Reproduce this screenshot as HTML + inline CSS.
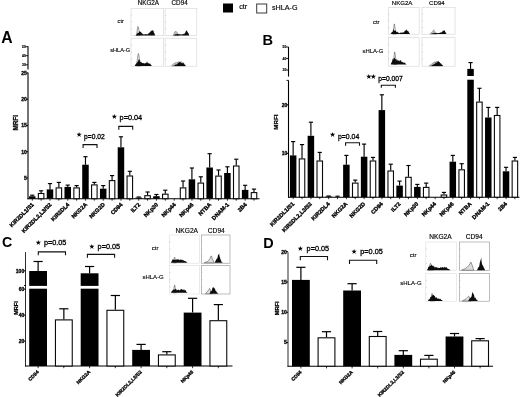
<!DOCTYPE html>
<html lang="en"><head><meta charset="utf-8"><title>Figure</title>
<style>
html,body{margin:0;padding:0;background:#fff;}
body{width:520px;height:397px;overflow:hidden;font-family:"Liberation Sans",sans-serif;}
svg{display:block;filter:blur(0.4px);}
</style></head><body>
<svg width="520" height="397" viewBox="0 0 520 397">
<rect width="520" height="397" fill="#fff"/>
<rect x="223.00" y="3.50" width="10.00" height="9.00" fill="#000"/>
<text x="239.20" y="8.70" font-size="7.3" font-family="Liberation Sans, sans-serif" fill="#000" stroke="#000" stroke-width="0.15">ctr</text>
<rect x="256.70" y="4.00" width="10.00" height="9.00" fill="#fff" stroke="#3a3a3a" stroke-width="1"/>
<text x="272.00" y="10.00" font-size="7.2" font-family="Liberation Sans, sans-serif" fill="#000" stroke="#000" stroke-width="0.15">sHLA-G</text>
<text x="1.30" y="42.80" font-size="15.7" font-family="Liberation Sans, sans-serif" fill="#000" font-weight="bold">A</text>
<text x="262.40" y="45.20" font-size="14.6" font-family="Liberation Sans, sans-serif" fill="#000" font-weight="bold">B</text>
<text x="1.90" y="247.20" font-size="14.2" font-family="Liberation Sans, sans-serif" fill="#000" font-weight="bold">C</text>
<text x="263.30" y="247.50" font-size="14.4" font-family="Liberation Sans, sans-serif" fill="#000" font-weight="bold">D</text>
<line x1="28.00" y1="72.60" x2="28.00" y2="199.20" stroke="#000" stroke-width="1.1"/>
<line x1="27.50" y1="198.70" x2="259.50" y2="198.70" stroke="#000" stroke-width="1.1"/>
<line x1="26.20" y1="177.95" x2="28.00" y2="177.95" stroke="#000" stroke-width="1"/>
<text x="26.70" y="179.75" font-size="5" font-family="Liberation Sans, sans-serif" fill="#000" stroke="#000" stroke-width="0.3" font-weight="bold" text-anchor="end">5</text>
<line x1="26.20" y1="151.70" x2="28.00" y2="151.70" stroke="#000" stroke-width="1"/>
<text x="26.70" y="153.50" font-size="5" font-family="Liberation Sans, sans-serif" fill="#000" stroke="#000" stroke-width="0.3" font-weight="bold" text-anchor="end">10</text>
<line x1="26.20" y1="125.45" x2="28.00" y2="125.45" stroke="#000" stroke-width="1"/>
<text x="26.70" y="127.25" font-size="5" font-family="Liberation Sans, sans-serif" fill="#000" stroke="#000" stroke-width="0.3" font-weight="bold" text-anchor="end">15</text>
<line x1="26.20" y1="99.20" x2="28.00" y2="99.20" stroke="#000" stroke-width="1"/>
<text x="26.70" y="101.00" font-size="5" font-family="Liberation Sans, sans-serif" fill="#000" stroke="#000" stroke-width="0.3" font-weight="bold" text-anchor="end">20</text>
<line x1="26.20" y1="72.95" x2="28.00" y2="72.95" stroke="#000" stroke-width="1"/>
<text x="26.70" y="74.75" font-size="5" font-family="Liberation Sans, sans-serif" fill="#000" stroke="#000" stroke-width="0.3" font-weight="bold" text-anchor="end">25</text>
<line x1="28.00" y1="46.30" x2="28.00" y2="69.40" stroke="#000" stroke-width="1.1"/>
<line x1="25.80" y1="46.70" x2="28.00" y2="46.70" stroke="#000" stroke-width="0.9"/>
<text x="25.80" y="47.90" font-size="3.4" font-family="Liberation Sans, sans-serif" fill="#000" stroke="#000" stroke-width="0.15" font-weight="bold" text-anchor="end">50</text>
<line x1="25.80" y1="55.70" x2="28.00" y2="55.70" stroke="#000" stroke-width="0.9"/>
<text x="25.80" y="56.90" font-size="3.4" font-family="Liberation Sans, sans-serif" fill="#000" stroke="#000" stroke-width="0.15" font-weight="bold" text-anchor="end">40</text>
<line x1="25.80" y1="64.80" x2="28.00" y2="64.80" stroke="#000" stroke-width="0.9"/>
<text x="25.80" y="66.00" font-size="3.4" font-family="Liberation Sans, sans-serif" fill="#000" stroke="#000" stroke-width="0.15" font-weight="bold" text-anchor="end">30</text>
<text x="17.60" y="122.80" font-size="6.4" font-family="Liberation Sans, sans-serif" fill="#000" stroke="#000" stroke-width="0.25" font-weight="bold" text-anchor="middle" transform="rotate(-90 17.60 122.80)">MRFI</text>
<line x1="32.25" y1="196.30" x2="32.25" y2="195.20" stroke="#000" stroke-width="1.15"/>
<line x1="30.15" y1="195.20" x2="34.35" y2="195.20" stroke="#000" stroke-width="1.15"/>
<rect x="29.00" y="196.30" width="6.50" height="2.40" fill="#000"/>
<line x1="41.12" y1="193.00" x2="41.12" y2="190.80" stroke="#000" stroke-width="1.15"/>
<line x1="39.02" y1="190.80" x2="43.22" y2="190.80" stroke="#000" stroke-width="1.15"/>
<rect x="38.37" y="193.50" width="5.50" height="5.20" fill="#fff" stroke="#0a0a0a" stroke-width="1.1"/>
<line x1="49.99" y1="189.40" x2="49.99" y2="183.60" stroke="#000" stroke-width="1.15"/>
<line x1="47.89" y1="183.60" x2="52.09" y2="183.60" stroke="#000" stroke-width="1.15"/>
<rect x="46.74" y="189.40" width="6.50" height="9.30" fill="#000"/>
<line x1="58.86" y1="187.40" x2="58.86" y2="182.40" stroke="#000" stroke-width="1.15"/>
<line x1="56.76" y1="182.40" x2="60.96" y2="182.40" stroke="#000" stroke-width="1.15"/>
<rect x="56.11" y="187.90" width="5.50" height="10.80" fill="#fff" stroke="#0a0a0a" stroke-width="1.1"/>
<line x1="67.73" y1="186.90" x2="67.73" y2="185.10" stroke="#000" stroke-width="1.15"/>
<line x1="65.63" y1="185.10" x2="69.83" y2="185.10" stroke="#000" stroke-width="1.15"/>
<rect x="64.48" y="186.90" width="6.50" height="11.80" fill="#000"/>
<line x1="76.60" y1="187.40" x2="76.60" y2="185.60" stroke="#000" stroke-width="1.15"/>
<line x1="74.50" y1="185.60" x2="78.70" y2="185.60" stroke="#000" stroke-width="1.15"/>
<rect x="73.85" y="187.90" width="5.50" height="10.80" fill="#fff" stroke="#0a0a0a" stroke-width="1.1"/>
<line x1="85.47" y1="164.70" x2="85.47" y2="156.70" stroke="#000" stroke-width="1.15"/>
<line x1="83.37" y1="156.70" x2="87.57" y2="156.70" stroke="#000" stroke-width="1.15"/>
<rect x="82.22" y="164.70" width="6.50" height="34.00" fill="#000"/>
<line x1="94.34" y1="184.40" x2="94.34" y2="182.40" stroke="#000" stroke-width="1.15"/>
<line x1="92.24" y1="182.40" x2="96.44" y2="182.40" stroke="#000" stroke-width="1.15"/>
<rect x="91.59" y="184.90" width="5.50" height="13.80" fill="#fff" stroke="#0a0a0a" stroke-width="1.1"/>
<line x1="103.21" y1="188.70" x2="103.21" y2="185.60" stroke="#000" stroke-width="1.15"/>
<line x1="101.11" y1="185.60" x2="105.31" y2="185.60" stroke="#000" stroke-width="1.15"/>
<rect x="99.96" y="188.70" width="6.50" height="10.00" fill="#000"/>
<line x1="112.08" y1="180.10" x2="112.08" y2="175.60" stroke="#000" stroke-width="1.15"/>
<line x1="109.98" y1="175.60" x2="114.18" y2="175.60" stroke="#000" stroke-width="1.15"/>
<rect x="109.33" y="180.60" width="5.50" height="18.10" fill="#fff" stroke="#0a0a0a" stroke-width="1.1"/>
<line x1="120.95" y1="147.30" x2="120.95" y2="136.80" stroke="#000" stroke-width="1.15"/>
<line x1="118.85" y1="136.80" x2="123.05" y2="136.80" stroke="#000" stroke-width="1.15"/>
<rect x="117.70" y="147.30" width="6.50" height="51.40" fill="#000"/>
<line x1="129.82" y1="175.50" x2="129.82" y2="171.30" stroke="#000" stroke-width="1.15"/>
<line x1="127.72" y1="171.30" x2="131.92" y2="171.30" stroke="#000" stroke-width="1.15"/>
<rect x="127.07" y="176.00" width="5.50" height="22.70" fill="#fff" stroke="#0a0a0a" stroke-width="1.1"/>
<line x1="138.69" y1="197.60" x2="138.69" y2="197.00" stroke="#000" stroke-width="1.15"/>
<line x1="136.59" y1="197.00" x2="140.79" y2="197.00" stroke="#000" stroke-width="1.15"/>
<rect x="135.44" y="197.60" width="6.50" height="1.10" fill="#000"/>
<line x1="147.56" y1="195.20" x2="147.56" y2="192.00" stroke="#000" stroke-width="1.15"/>
<line x1="145.46" y1="192.00" x2="149.66" y2="192.00" stroke="#000" stroke-width="1.15"/>
<rect x="144.81" y="195.70" width="5.50" height="3.00" fill="#fff" stroke="#0a0a0a" stroke-width="1.1"/>
<line x1="156.43" y1="196.20" x2="156.43" y2="194.50" stroke="#000" stroke-width="1.15"/>
<line x1="154.33" y1="194.50" x2="158.53" y2="194.50" stroke="#000" stroke-width="1.15"/>
<rect x="153.18" y="196.20" width="6.50" height="2.50" fill="#000"/>
<line x1="165.30" y1="193.70" x2="165.30" y2="190.20" stroke="#000" stroke-width="1.15"/>
<line x1="163.20" y1="190.20" x2="167.40" y2="190.20" stroke="#000" stroke-width="1.15"/>
<rect x="162.55" y="194.20" width="5.50" height="4.50" fill="#fff" stroke="#0a0a0a" stroke-width="1.1"/>
<line x1="183.04" y1="187.40" x2="183.04" y2="181.00" stroke="#000" stroke-width="1.15"/>
<line x1="180.94" y1="181.00" x2="185.14" y2="181.00" stroke="#000" stroke-width="1.15"/>
<rect x="180.29" y="187.90" width="5.50" height="10.80" fill="#fff" stroke="#0a0a0a" stroke-width="1.1"/>
<line x1="191.91" y1="179.30" x2="191.91" y2="168.00" stroke="#000" stroke-width="1.15"/>
<line x1="189.81" y1="168.00" x2="194.01" y2="168.00" stroke="#000" stroke-width="1.15"/>
<rect x="188.66" y="179.30" width="6.50" height="19.40" fill="#000"/>
<line x1="200.78" y1="182.60" x2="200.78" y2="176.80" stroke="#000" stroke-width="1.15"/>
<line x1="198.68" y1="176.80" x2="202.88" y2="176.80" stroke="#000" stroke-width="1.15"/>
<rect x="198.03" y="183.10" width="5.50" height="15.60" fill="#fff" stroke="#0a0a0a" stroke-width="1.1"/>
<line x1="209.65" y1="167.50" x2="209.65" y2="153.70" stroke="#000" stroke-width="1.15"/>
<line x1="207.55" y1="153.70" x2="211.75" y2="153.70" stroke="#000" stroke-width="1.15"/>
<rect x="206.40" y="167.50" width="6.50" height="31.20" fill="#000"/>
<line x1="218.52" y1="175.60" x2="218.52" y2="170.00" stroke="#000" stroke-width="1.15"/>
<line x1="216.42" y1="170.00" x2="220.62" y2="170.00" stroke="#000" stroke-width="1.15"/>
<rect x="215.77" y="176.10" width="5.50" height="22.60" fill="#fff" stroke="#0a0a0a" stroke-width="1.1"/>
<line x1="227.39" y1="173.00" x2="227.39" y2="166.80" stroke="#000" stroke-width="1.15"/>
<line x1="225.29" y1="166.80" x2="229.49" y2="166.80" stroke="#000" stroke-width="1.15"/>
<rect x="224.14" y="173.00" width="6.50" height="25.70" fill="#000"/>
<line x1="236.26" y1="165.50" x2="236.26" y2="159.20" stroke="#000" stroke-width="1.15"/>
<line x1="234.16" y1="159.20" x2="238.36" y2="159.20" stroke="#000" stroke-width="1.15"/>
<rect x="233.51" y="166.00" width="5.50" height="32.70" fill="#fff" stroke="#0a0a0a" stroke-width="1.1"/>
<line x1="245.13" y1="189.90" x2="245.13" y2="185.30" stroke="#000" stroke-width="1.15"/>
<line x1="243.03" y1="185.30" x2="247.23" y2="185.30" stroke="#000" stroke-width="1.15"/>
<rect x="241.88" y="189.90" width="6.50" height="8.80" fill="#000"/>
<line x1="254.00" y1="192.10" x2="254.00" y2="189.10" stroke="#000" stroke-width="1.15"/>
<line x1="251.90" y1="189.10" x2="256.10" y2="189.10" stroke="#000" stroke-width="1.15"/>
<rect x="251.25" y="192.60" width="5.50" height="6.10" fill="#fff" stroke="#0a0a0a" stroke-width="1.1"/>
<line x1="32.30" y1="198.70" x2="32.30" y2="200.70" stroke="#000" stroke-width="0.8"/>
<line x1="41.10" y1="198.70" x2="41.10" y2="200.70" stroke="#000" stroke-width="0.8"/>
<text x="34.30" y="205.00" font-size="5.6" font-family="Liberation Sans, sans-serif" fill="#000" stroke="#000" stroke-width="0.35" font-weight="bold" text-anchor="end" transform="rotate(-45 34.30 205.00)">KIR2DL1/S1</text>
<line x1="50.04" y1="198.70" x2="50.04" y2="200.70" stroke="#000" stroke-width="0.8"/>
<line x1="58.84" y1="198.70" x2="58.84" y2="200.70" stroke="#000" stroke-width="0.8"/>
<text x="52.04" y="205.00" font-size="5.6" font-family="Liberation Sans, sans-serif" fill="#000" stroke="#000" stroke-width="0.35" font-weight="bold" text-anchor="end" transform="rotate(-45 52.04 205.00)">KIR2DL2,L3/S2</text>
<line x1="67.78" y1="198.70" x2="67.78" y2="200.70" stroke="#000" stroke-width="0.8"/>
<line x1="76.58" y1="198.70" x2="76.58" y2="200.70" stroke="#000" stroke-width="0.8"/>
<text x="69.78" y="205.00" font-size="5.6" font-family="Liberation Sans, sans-serif" fill="#000" stroke="#000" stroke-width="0.35" font-weight="bold" text-anchor="end" transform="rotate(-45 69.78 205.00)">KIR2DL4</text>
<line x1="85.52" y1="198.70" x2="85.52" y2="200.70" stroke="#000" stroke-width="0.8"/>
<line x1="94.32" y1="198.70" x2="94.32" y2="200.70" stroke="#000" stroke-width="0.8"/>
<text x="87.52" y="205.00" font-size="5.6" font-family="Liberation Sans, sans-serif" fill="#000" stroke="#000" stroke-width="0.35" font-weight="bold" text-anchor="end" transform="rotate(-45 87.52 205.00)">NKG2A</text>
<line x1="103.26" y1="198.70" x2="103.26" y2="200.70" stroke="#000" stroke-width="0.8"/>
<line x1="112.06" y1="198.70" x2="112.06" y2="200.70" stroke="#000" stroke-width="0.8"/>
<text x="105.26" y="205.00" font-size="5.6" font-family="Liberation Sans, sans-serif" fill="#000" stroke="#000" stroke-width="0.35" font-weight="bold" text-anchor="end" transform="rotate(-45 105.26 205.00)">NKG2D</text>
<line x1="121.00" y1="198.70" x2="121.00" y2="200.70" stroke="#000" stroke-width="0.8"/>
<line x1="129.80" y1="198.70" x2="129.80" y2="200.70" stroke="#000" stroke-width="0.8"/>
<text x="123.00" y="205.00" font-size="5.6" font-family="Liberation Sans, sans-serif" fill="#000" stroke="#000" stroke-width="0.35" font-weight="bold" text-anchor="end" transform="rotate(-45 123.00 205.00)">CD94</text>
<line x1="138.74" y1="198.70" x2="138.74" y2="200.70" stroke="#000" stroke-width="0.8"/>
<line x1="147.54" y1="198.70" x2="147.54" y2="200.70" stroke="#000" stroke-width="0.8"/>
<text x="140.74" y="205.00" font-size="5.6" font-family="Liberation Sans, sans-serif" fill="#000" stroke="#000" stroke-width="0.35" font-weight="bold" text-anchor="end" transform="rotate(-45 140.74 205.00)">ILT2</text>
<line x1="156.48" y1="198.70" x2="156.48" y2="200.70" stroke="#000" stroke-width="0.8"/>
<line x1="165.28" y1="198.70" x2="165.28" y2="200.70" stroke="#000" stroke-width="0.8"/>
<text x="158.48" y="205.00" font-size="5.6" font-family="Liberation Sans, sans-serif" fill="#000" stroke="#000" stroke-width="0.35" font-weight="bold" text-anchor="end" transform="rotate(-45 158.48 205.00)">NKp30</text>
<line x1="174.22" y1="198.70" x2="174.22" y2="200.70" stroke="#000" stroke-width="0.8"/>
<line x1="183.02" y1="198.70" x2="183.02" y2="200.70" stroke="#000" stroke-width="0.8"/>
<text x="176.22" y="205.00" font-size="5.6" font-family="Liberation Sans, sans-serif" fill="#000" stroke="#000" stroke-width="0.35" font-weight="bold" text-anchor="end" transform="rotate(-45 176.22 205.00)">NKp44</text>
<line x1="191.96" y1="198.70" x2="191.96" y2="200.70" stroke="#000" stroke-width="0.8"/>
<line x1="200.76" y1="198.70" x2="200.76" y2="200.70" stroke="#000" stroke-width="0.8"/>
<text x="193.96" y="205.00" font-size="5.6" font-family="Liberation Sans, sans-serif" fill="#000" stroke="#000" stroke-width="0.35" font-weight="bold" text-anchor="end" transform="rotate(-45 193.96 205.00)">NKp46</text>
<line x1="209.70" y1="198.70" x2="209.70" y2="200.70" stroke="#000" stroke-width="0.8"/>
<line x1="218.50" y1="198.70" x2="218.50" y2="200.70" stroke="#000" stroke-width="0.8"/>
<text x="211.70" y="205.00" font-size="5.6" font-family="Liberation Sans, sans-serif" fill="#000" stroke="#000" stroke-width="0.35" font-weight="bold" text-anchor="end" transform="rotate(-45 211.70 205.00)">NTBA</text>
<line x1="227.44" y1="198.70" x2="227.44" y2="200.70" stroke="#000" stroke-width="0.8"/>
<line x1="236.24" y1="198.70" x2="236.24" y2="200.70" stroke="#000" stroke-width="0.8"/>
<text x="229.44" y="205.00" font-size="5.6" font-family="Liberation Sans, sans-serif" fill="#000" stroke="#000" stroke-width="0.35" font-weight="bold" text-anchor="end" transform="rotate(-45 229.44 205.00)">DNAM-1</text>
<line x1="245.18" y1="198.70" x2="245.18" y2="200.70" stroke="#000" stroke-width="0.8"/>
<line x1="253.98" y1="198.70" x2="253.98" y2="200.70" stroke="#000" stroke-width="0.8"/>
<text x="247.18" y="205.00" font-size="5.6" font-family="Liberation Sans, sans-serif" fill="#000" stroke="#000" stroke-width="0.35" font-weight="bold" text-anchor="end" transform="rotate(-45 247.18 205.00)">2B4</text>
<path d="M83.10 147.90V144.60H97.00V147.90" fill="none" stroke="#111" stroke-width="1.1"/>
<text x="79.15" y="136.25" font-size="4.1" font-family="Liberation Sans, sans-serif" fill="#000" stroke="#000" stroke-width="0.7" text-anchor="middle" style="font-family:'DejaVu Sans',sans-serif">★</text>
<text x="84.10" y="138.50" font-size="6.7" font-family="Liberation Sans, sans-serif" fill="#000" stroke="#000" stroke-width="0.3">p=0.02</text>
<path d="M118.80 129.70V126.40H132.70V129.70" fill="none" stroke="#111" stroke-width="1.1"/>
<text x="114.45" y="118.15" font-size="4.1" font-family="Liberation Sans, sans-serif" fill="#000" stroke="#000" stroke-width="0.7" text-anchor="middle" style="font-family:'DejaVu Sans',sans-serif">★</text>
<text x="119.60" y="119.60" font-size="7.3" font-family="Liberation Sans, sans-serif" fill="#000" stroke="#000" stroke-width="0.3">p=0.04</text>
<line x1="288.50" y1="80.40" x2="288.50" y2="197.70" stroke="#000" stroke-width="1.1"/>
<line x1="288.00" y1="197.20" x2="519.50" y2="197.20" stroke="#000" stroke-width="1.1"/>
<line x1="286.70" y1="153.40" x2="288.50" y2="153.40" stroke="#000" stroke-width="1"/>
<text x="287.20" y="155.20" font-size="5" font-family="Liberation Sans, sans-serif" fill="#000" stroke="#000" stroke-width="0.3" font-weight="bold" text-anchor="end">10</text>
<line x1="286.70" y1="104.80" x2="288.50" y2="104.80" stroke="#000" stroke-width="1"/>
<text x="287.20" y="106.60" font-size="5" font-family="Liberation Sans, sans-serif" fill="#000" stroke="#000" stroke-width="0.3" font-weight="bold" text-anchor="end">20</text>
<line x1="286.50" y1="80.40" x2="288.50" y2="80.40" stroke="#000" stroke-width="0.9"/>
<line x1="288.50" y1="47.00" x2="288.50" y2="76.60" stroke="#000" stroke-width="1.1"/>
<line x1="286.30" y1="47.00" x2="288.50" y2="47.00" stroke="#000" stroke-width="0.9"/>
<text x="286.30" y="48.20" font-size="3.4" font-family="Liberation Sans, sans-serif" fill="#000" stroke="#000" stroke-width="0.15" font-weight="bold" text-anchor="end">50</text>
<line x1="286.30" y1="58.50" x2="288.50" y2="58.50" stroke="#000" stroke-width="0.9"/>
<text x="286.30" y="59.70" font-size="3.4" font-family="Liberation Sans, sans-serif" fill="#000" stroke="#000" stroke-width="0.15" font-weight="bold" text-anchor="end">40</text>
<line x1="286.30" y1="70.00" x2="288.50" y2="70.00" stroke="#000" stroke-width="0.9"/>
<text x="286.30" y="71.20" font-size="3.4" font-family="Liberation Sans, sans-serif" fill="#000" stroke="#000" stroke-width="0.15" font-weight="bold" text-anchor="end">30</text>
<text x="278.50" y="122.10" font-size="6.2" font-family="Liberation Sans, sans-serif" fill="#000" stroke="#000" stroke-width="0.25" font-weight="bold" text-anchor="middle" transform="rotate(-90 278.50 122.10)">MRFI</text>
<line x1="293.15" y1="155.40" x2="293.15" y2="141.60" stroke="#000" stroke-width="1.15"/>
<line x1="291.05" y1="141.60" x2="295.25" y2="141.60" stroke="#000" stroke-width="1.15"/>
<rect x="289.90" y="155.40" width="6.50" height="41.80" fill="#000"/>
<line x1="302.02" y1="158.40" x2="302.02" y2="144.60" stroke="#000" stroke-width="1.15"/>
<line x1="299.92" y1="144.60" x2="304.12" y2="144.60" stroke="#000" stroke-width="1.15"/>
<rect x="299.27" y="158.90" width="5.50" height="38.30" fill="#fff" stroke="#0a0a0a" stroke-width="1.1"/>
<line x1="310.89" y1="135.80" x2="310.89" y2="122.20" stroke="#000" stroke-width="1.15"/>
<line x1="308.79" y1="122.20" x2="312.99" y2="122.20" stroke="#000" stroke-width="1.15"/>
<rect x="307.64" y="135.80" width="6.50" height="61.40" fill="#000"/>
<line x1="319.76" y1="160.50" x2="319.76" y2="152.40" stroke="#000" stroke-width="1.15"/>
<line x1="317.66" y1="152.40" x2="321.86" y2="152.40" stroke="#000" stroke-width="1.15"/>
<rect x="317.01" y="161.00" width="5.50" height="36.20" fill="#fff" stroke="#0a0a0a" stroke-width="1.1"/>
<line x1="328.63" y1="196.50" x2="328.63" y2="196.00" stroke="#000" stroke-width="1.15"/>
<line x1="326.53" y1="196.00" x2="330.73" y2="196.00" stroke="#000" stroke-width="1.15"/>
<rect x="325.38" y="196.50" width="6.50" height="0.70" fill="#000"/>
<line x1="337.50" y1="196.70" x2="337.50" y2="196.20" stroke="#000" stroke-width="1.15"/>
<line x1="335.40" y1="196.20" x2="339.60" y2="196.20" stroke="#000" stroke-width="1.15"/>
<rect x="334.75" y="197.20" width="5.50" height="0.00" fill="#fff" stroke="#0a0a0a" stroke-width="1.1"/>
<line x1="346.37" y1="164.70" x2="346.37" y2="155.40" stroke="#000" stroke-width="1.15"/>
<line x1="344.27" y1="155.40" x2="348.47" y2="155.40" stroke="#000" stroke-width="1.15"/>
<rect x="343.12" y="164.70" width="6.50" height="32.50" fill="#000"/>
<line x1="355.24" y1="182.60" x2="355.24" y2="180.10" stroke="#000" stroke-width="1.15"/>
<line x1="353.14" y1="180.10" x2="357.34" y2="180.10" stroke="#000" stroke-width="1.15"/>
<rect x="352.49" y="183.10" width="5.50" height="14.10" fill="#fff" stroke="#0a0a0a" stroke-width="1.1"/>
<line x1="364.11" y1="156.70" x2="364.11" y2="144.10" stroke="#000" stroke-width="1.15"/>
<line x1="362.01" y1="144.10" x2="366.21" y2="144.10" stroke="#000" stroke-width="1.15"/>
<rect x="360.86" y="156.70" width="6.50" height="40.50" fill="#000"/>
<line x1="372.98" y1="160.50" x2="372.98" y2="157.40" stroke="#000" stroke-width="1.15"/>
<line x1="370.88" y1="157.40" x2="375.08" y2="157.40" stroke="#000" stroke-width="1.15"/>
<rect x="370.23" y="161.00" width="5.50" height="36.20" fill="#fff" stroke="#0a0a0a" stroke-width="1.1"/>
<line x1="381.85" y1="110.10" x2="381.85" y2="94.80" stroke="#000" stroke-width="1.15"/>
<line x1="379.75" y1="94.80" x2="383.95" y2="94.80" stroke="#000" stroke-width="1.15"/>
<rect x="378.60" y="110.10" width="6.50" height="87.10" fill="#000"/>
<line x1="390.72" y1="170.50" x2="390.72" y2="164.20" stroke="#000" stroke-width="1.15"/>
<line x1="388.62" y1="164.20" x2="392.82" y2="164.20" stroke="#000" stroke-width="1.15"/>
<rect x="387.97" y="171.00" width="5.50" height="26.20" fill="#fff" stroke="#0a0a0a" stroke-width="1.1"/>
<line x1="399.59" y1="185.60" x2="399.59" y2="181.10" stroke="#000" stroke-width="1.15"/>
<line x1="397.49" y1="181.10" x2="401.69" y2="181.10" stroke="#000" stroke-width="1.15"/>
<rect x="396.34" y="185.60" width="6.50" height="11.60" fill="#000"/>
<line x1="408.46" y1="176.80" x2="408.46" y2="165.50" stroke="#000" stroke-width="1.15"/>
<line x1="406.36" y1="165.50" x2="410.56" y2="165.50" stroke="#000" stroke-width="1.15"/>
<rect x="405.71" y="177.30" width="5.50" height="19.90" fill="#fff" stroke="#0a0a0a" stroke-width="1.1"/>
<line x1="417.33" y1="186.90" x2="417.33" y2="184.40" stroke="#000" stroke-width="1.15"/>
<line x1="415.23" y1="184.40" x2="419.43" y2="184.40" stroke="#000" stroke-width="1.15"/>
<rect x="414.08" y="186.90" width="6.50" height="10.30" fill="#000"/>
<line x1="426.20" y1="186.90" x2="426.20" y2="183.10" stroke="#000" stroke-width="1.15"/>
<line x1="424.10" y1="183.10" x2="428.30" y2="183.10" stroke="#000" stroke-width="1.15"/>
<rect x="423.45" y="187.40" width="5.50" height="9.80" fill="#fff" stroke="#0a0a0a" stroke-width="1.1"/>
<line x1="443.94" y1="194.50" x2="443.94" y2="192.40" stroke="#000" stroke-width="1.15"/>
<line x1="441.84" y1="192.40" x2="446.04" y2="192.40" stroke="#000" stroke-width="1.15"/>
<rect x="441.19" y="195.00" width="5.50" height="2.20" fill="#fff" stroke="#0a0a0a" stroke-width="1.1"/>
<line x1="452.81" y1="161.70" x2="452.81" y2="155.40" stroke="#000" stroke-width="1.15"/>
<line x1="450.71" y1="155.40" x2="454.91" y2="155.40" stroke="#000" stroke-width="1.15"/>
<rect x="449.56" y="161.70" width="6.50" height="35.50" fill="#000"/>
<line x1="461.68" y1="169.30" x2="461.68" y2="163.70" stroke="#000" stroke-width="1.15"/>
<line x1="459.58" y1="163.70" x2="463.78" y2="163.70" stroke="#000" stroke-width="1.15"/>
<rect x="458.93" y="169.80" width="5.50" height="27.40" fill="#fff" stroke="#0a0a0a" stroke-width="1.1"/>
<line x1="470.55" y1="68.90" x2="470.55" y2="62.60" stroke="#000" stroke-width="1.15"/>
<line x1="468.45" y1="62.60" x2="472.65" y2="62.60" stroke="#000" stroke-width="1.15"/>
<rect x="467.30" y="68.90" width="6.50" height="128.30" fill="#000"/>
<line x1="479.42" y1="101.60" x2="479.42" y2="88.30" stroke="#000" stroke-width="1.15"/>
<line x1="477.32" y1="88.30" x2="481.52" y2="88.30" stroke="#000" stroke-width="1.15"/>
<rect x="476.67" y="102.10" width="5.50" height="95.10" fill="#fff" stroke="#0a0a0a" stroke-width="1.1"/>
<line x1="488.29" y1="117.50" x2="488.29" y2="107.40" stroke="#000" stroke-width="1.15"/>
<line x1="486.19" y1="107.40" x2="490.39" y2="107.40" stroke="#000" stroke-width="1.15"/>
<rect x="485.04" y="117.50" width="6.50" height="79.70" fill="#000"/>
<line x1="497.16" y1="115.00" x2="497.16" y2="107.40" stroke="#000" stroke-width="1.15"/>
<line x1="495.06" y1="107.40" x2="499.26" y2="107.40" stroke="#000" stroke-width="1.15"/>
<rect x="494.41" y="115.50" width="5.50" height="81.70" fill="#fff" stroke="#0a0a0a" stroke-width="1.1"/>
<line x1="506.03" y1="171.30" x2="506.03" y2="167.30" stroke="#000" stroke-width="1.15"/>
<line x1="503.93" y1="167.30" x2="508.13" y2="167.30" stroke="#000" stroke-width="1.15"/>
<rect x="502.78" y="171.30" width="6.50" height="25.90" fill="#000"/>
<line x1="514.90" y1="160.50" x2="514.90" y2="157.40" stroke="#000" stroke-width="1.15"/>
<line x1="512.80" y1="157.40" x2="517.00" y2="157.40" stroke="#000" stroke-width="1.15"/>
<rect x="512.15" y="161.00" width="5.50" height="36.20" fill="#fff" stroke="#0a0a0a" stroke-width="1.1"/>
<rect x="466.00" y="76.00" width="9.00" height="3.70" fill="#fff"/>
<line x1="293.20" y1="197.20" x2="293.20" y2="199.20" stroke="#000" stroke-width="0.8"/>
<line x1="302.00" y1="197.20" x2="302.00" y2="199.20" stroke="#000" stroke-width="0.8"/>
<text x="294.60" y="204.30" font-size="5.6" font-family="Liberation Sans, sans-serif" fill="#000" stroke="#000" stroke-width="0.35" font-weight="bold" text-anchor="end" transform="rotate(-45 294.60 204.30)">KIR2DL1/S1</text>
<line x1="310.94" y1="197.20" x2="310.94" y2="199.20" stroke="#000" stroke-width="0.8"/>
<line x1="319.74" y1="197.20" x2="319.74" y2="199.20" stroke="#000" stroke-width="0.8"/>
<text x="312.34" y="204.30" font-size="5.6" font-family="Liberation Sans, sans-serif" fill="#000" stroke="#000" stroke-width="0.35" font-weight="bold" text-anchor="end" transform="rotate(-45 312.34 204.30)">KIR2DL2,L3/S2</text>
<line x1="328.68" y1="197.20" x2="328.68" y2="199.20" stroke="#000" stroke-width="0.8"/>
<line x1="337.48" y1="197.20" x2="337.48" y2="199.20" stroke="#000" stroke-width="0.8"/>
<text x="330.08" y="204.30" font-size="5.6" font-family="Liberation Sans, sans-serif" fill="#000" stroke="#000" stroke-width="0.35" font-weight="bold" text-anchor="end" transform="rotate(-45 330.08 204.30)">KIR2DL4</text>
<line x1="346.42" y1="197.20" x2="346.42" y2="199.20" stroke="#000" stroke-width="0.8"/>
<line x1="355.22" y1="197.20" x2="355.22" y2="199.20" stroke="#000" stroke-width="0.8"/>
<text x="347.82" y="204.30" font-size="5.6" font-family="Liberation Sans, sans-serif" fill="#000" stroke="#000" stroke-width="0.35" font-weight="bold" text-anchor="end" transform="rotate(-45 347.82 204.30)">NKG2A</text>
<line x1="364.16" y1="197.20" x2="364.16" y2="199.20" stroke="#000" stroke-width="0.8"/>
<line x1="372.96" y1="197.20" x2="372.96" y2="199.20" stroke="#000" stroke-width="0.8"/>
<text x="365.56" y="204.30" font-size="5.6" font-family="Liberation Sans, sans-serif" fill="#000" stroke="#000" stroke-width="0.35" font-weight="bold" text-anchor="end" transform="rotate(-45 365.56 204.30)">NKG2D</text>
<line x1="381.90" y1="197.20" x2="381.90" y2="199.20" stroke="#000" stroke-width="0.8"/>
<line x1="390.70" y1="197.20" x2="390.70" y2="199.20" stroke="#000" stroke-width="0.8"/>
<text x="383.30" y="204.30" font-size="5.6" font-family="Liberation Sans, sans-serif" fill="#000" stroke="#000" stroke-width="0.35" font-weight="bold" text-anchor="end" transform="rotate(-45 383.30 204.30)">CD94</text>
<line x1="399.64" y1="197.20" x2="399.64" y2="199.20" stroke="#000" stroke-width="0.8"/>
<line x1="408.44" y1="197.20" x2="408.44" y2="199.20" stroke="#000" stroke-width="0.8"/>
<text x="401.04" y="204.30" font-size="5.6" font-family="Liberation Sans, sans-serif" fill="#000" stroke="#000" stroke-width="0.35" font-weight="bold" text-anchor="end" transform="rotate(-45 401.04 204.30)">ILT2</text>
<line x1="417.38" y1="197.20" x2="417.38" y2="199.20" stroke="#000" stroke-width="0.8"/>
<line x1="426.18" y1="197.20" x2="426.18" y2="199.20" stroke="#000" stroke-width="0.8"/>
<text x="418.78" y="204.30" font-size="5.6" font-family="Liberation Sans, sans-serif" fill="#000" stroke="#000" stroke-width="0.35" font-weight="bold" text-anchor="end" transform="rotate(-45 418.78 204.30)">NKp30</text>
<line x1="435.12" y1="197.20" x2="435.12" y2="199.20" stroke="#000" stroke-width="0.8"/>
<line x1="443.92" y1="197.20" x2="443.92" y2="199.20" stroke="#000" stroke-width="0.8"/>
<text x="436.52" y="204.30" font-size="5.6" font-family="Liberation Sans, sans-serif" fill="#000" stroke="#000" stroke-width="0.35" font-weight="bold" text-anchor="end" transform="rotate(-45 436.52 204.30)">NKp44</text>
<line x1="452.86" y1="197.20" x2="452.86" y2="199.20" stroke="#000" stroke-width="0.8"/>
<line x1="461.66" y1="197.20" x2="461.66" y2="199.20" stroke="#000" stroke-width="0.8"/>
<text x="454.26" y="204.30" font-size="5.6" font-family="Liberation Sans, sans-serif" fill="#000" stroke="#000" stroke-width="0.35" font-weight="bold" text-anchor="end" transform="rotate(-45 454.26 204.30)">NKp46</text>
<line x1="470.60" y1="197.20" x2="470.60" y2="199.20" stroke="#000" stroke-width="0.8"/>
<line x1="479.40" y1="197.20" x2="479.40" y2="199.20" stroke="#000" stroke-width="0.8"/>
<text x="472.00" y="204.30" font-size="5.6" font-family="Liberation Sans, sans-serif" fill="#000" stroke="#000" stroke-width="0.35" font-weight="bold" text-anchor="end" transform="rotate(-45 472.00 204.30)">NTBA</text>
<line x1="488.34" y1="197.20" x2="488.34" y2="199.20" stroke="#000" stroke-width="0.8"/>
<line x1="497.14" y1="197.20" x2="497.14" y2="199.20" stroke="#000" stroke-width="0.8"/>
<text x="489.74" y="204.30" font-size="5.6" font-family="Liberation Sans, sans-serif" fill="#000" stroke="#000" stroke-width="0.35" font-weight="bold" text-anchor="end" transform="rotate(-45 489.74 204.30)">DNAM-1</text>
<line x1="506.08" y1="197.20" x2="506.08" y2="199.20" stroke="#000" stroke-width="0.8"/>
<line x1="514.88" y1="197.20" x2="514.88" y2="199.20" stroke="#000" stroke-width="0.8"/>
<text x="507.48" y="204.30" font-size="5.6" font-family="Liberation Sans, sans-serif" fill="#000" stroke="#000" stroke-width="0.35" font-weight="bold" text-anchor="end" transform="rotate(-45 507.48 204.30)">2B4</text>
<path d="M345.60 145.80V142.80H359.50V145.80" fill="none" stroke="#111" stroke-width="1.1"/>
<text x="332.65" y="136.35" font-size="4.1" font-family="Liberation Sans, sans-serif" fill="#000" stroke="#000" stroke-width="0.7" text-anchor="middle" style="font-family:'DejaVu Sans',sans-serif">★</text>
<text x="338.00" y="139.00" font-size="6.9" font-family="Liberation Sans, sans-serif" fill="#000" stroke="#000" stroke-width="0.3">p=0.04</text>
<path d="M381.30 87.70V85.30H395.40V87.70" fill="none" stroke="#111" stroke-width="1.1"/>
<text x="368.85" y="78.15" font-size="4.1" font-family="Liberation Sans, sans-serif" fill="#000" stroke="#000" stroke-width="0.7" text-anchor="middle" style="font-family:'DejaVu Sans',sans-serif">★</text>
<text x="373.25" y="78.15" font-size="4.1" font-family="Liberation Sans, sans-serif" fill="#000" stroke="#000" stroke-width="0.7" text-anchor="middle" style="font-family:'DejaVu Sans',sans-serif">★</text>
<text x="378.30" y="81.20" font-size="6.7" font-family="Liberation Sans, sans-serif" fill="#000" stroke="#000" stroke-width="0.3">p=0.007</text>
<line x1="25.50" y1="252.10" x2="25.50" y2="366.50" stroke="#222" stroke-width="0.95"/>
<line x1="25.00" y1="366.00" x2="232.50" y2="366.00" stroke="#000" stroke-width="1.1"/>
<line x1="23.70" y1="341.10" x2="25.50" y2="341.10" stroke="#000" stroke-width="1"/>
<text x="24.20" y="342.90" font-size="5" font-family="Liberation Sans, sans-serif" fill="#000" stroke="#000" stroke-width="0.3" font-weight="bold" text-anchor="end">20</text>
<line x1="23.70" y1="315.10" x2="25.50" y2="315.10" stroke="#000" stroke-width="1"/>
<text x="24.20" y="316.90" font-size="5" font-family="Liberation Sans, sans-serif" fill="#000" stroke="#000" stroke-width="0.3" font-weight="bold" text-anchor="end">40</text>
<line x1="23.70" y1="289.10" x2="25.50" y2="289.10" stroke="#000" stroke-width="1"/>
<text x="24.20" y="290.90" font-size="5" font-family="Liberation Sans, sans-serif" fill="#000" stroke="#000" stroke-width="0.3" font-weight="bold" text-anchor="end">60</text>
<line x1="23.70" y1="270.80" x2="25.50" y2="270.80" stroke="#000" stroke-width="1"/>
<text x="24.20" y="272.60" font-size="5" font-family="Liberation Sans, sans-serif" fill="#000" stroke="#000" stroke-width="0.3" font-weight="bold" text-anchor="end">100</text>
<line x1="24.00" y1="285.50" x2="26.00" y2="285.50" stroke="#000" stroke-width="0.9"/>
<text x="17.50" y="308.00" font-size="5.6" font-family="Liberation Sans, sans-serif" fill="#000" stroke="#000" stroke-width="0.28" font-weight="bold" text-anchor="middle" transform="rotate(-90 17.50 308.00)">MRFI</text>
<line x1="38.10" y1="271.00" x2="38.10" y2="261.50" stroke="#000" stroke-width="1.2"/>
<line x1="33.50" y1="261.50" x2="42.70" y2="261.50" stroke="#000" stroke-width="1.2"/>
<rect x="29.20" y="271.00" width="17.80" height="95.00" fill="#000"/>
<line x1="63.85" y1="319.40" x2="63.85" y2="308.80" stroke="#000" stroke-width="1.2"/>
<line x1="59.25" y1="308.80" x2="68.45" y2="308.80" stroke="#000" stroke-width="1.2"/>
<rect x="55.45" y="319.90" width="16.80" height="46.10" fill="#fff" stroke="#0a0a0a" stroke-width="1.1"/>
<line x1="89.60" y1="273.30" x2="89.60" y2="266.50" stroke="#000" stroke-width="1.2"/>
<line x1="85.00" y1="266.50" x2="94.20" y2="266.50" stroke="#000" stroke-width="1.2"/>
<rect x="80.70" y="273.30" width="17.80" height="92.70" fill="#000"/>
<line x1="115.35" y1="309.80" x2="115.35" y2="295.50" stroke="#000" stroke-width="1.2"/>
<line x1="110.75" y1="295.50" x2="119.95" y2="295.50" stroke="#000" stroke-width="1.2"/>
<rect x="106.95" y="310.30" width="16.80" height="55.70" fill="#fff" stroke="#0a0a0a" stroke-width="1.1"/>
<line x1="141.10" y1="349.90" x2="141.10" y2="344.40" stroke="#000" stroke-width="1.2"/>
<line x1="136.50" y1="344.40" x2="145.70" y2="344.40" stroke="#000" stroke-width="1.2"/>
<rect x="132.20" y="349.90" width="17.80" height="16.10" fill="#000"/>
<line x1="166.85" y1="354.40" x2="166.85" y2="351.70" stroke="#000" stroke-width="1.2"/>
<line x1="162.25" y1="351.70" x2="171.45" y2="351.70" stroke="#000" stroke-width="1.2"/>
<rect x="158.45" y="354.90" width="16.80" height="11.10" fill="#fff" stroke="#0a0a0a" stroke-width="1.1"/>
<line x1="192.60" y1="312.60" x2="192.60" y2="298.30" stroke="#000" stroke-width="1.2"/>
<line x1="188.00" y1="298.30" x2="197.20" y2="298.30" stroke="#000" stroke-width="1.2"/>
<rect x="183.70" y="312.60" width="17.80" height="53.40" fill="#000"/>
<line x1="218.35" y1="320.20" x2="218.35" y2="304.60" stroke="#000" stroke-width="1.2"/>
<line x1="213.75" y1="304.60" x2="222.95" y2="304.60" stroke="#000" stroke-width="1.2"/>
<rect x="209.95" y="320.70" width="16.80" height="45.30" fill="#fff" stroke="#0a0a0a" stroke-width="1.1"/>
<rect x="28.50" y="285.90" width="72.00" height="2.80" fill="#fff"/>
<line x1="38.10" y1="366.00" x2="38.10" y2="368.20" stroke="#000" stroke-width="0.8"/>
<line x1="63.80" y1="366.00" x2="63.80" y2="368.20" stroke="#000" stroke-width="0.8"/>
<text x="39.20" y="372.30" font-size="4.9" font-family="Liberation Sans, sans-serif" fill="#000" stroke="#000" stroke-width="0.3" font-weight="bold" text-anchor="end" transform="rotate(-45 39.20 372.30)">CD94</text>
<line x1="89.60" y1="366.00" x2="89.60" y2="368.20" stroke="#000" stroke-width="0.8"/>
<line x1="115.30" y1="366.00" x2="115.30" y2="368.20" stroke="#000" stroke-width="0.8"/>
<text x="90.70" y="372.30" font-size="4.9" font-family="Liberation Sans, sans-serif" fill="#000" stroke="#000" stroke-width="0.3" font-weight="bold" text-anchor="end" transform="rotate(-45 90.70 372.30)">NKG2A</text>
<line x1="141.10" y1="366.00" x2="141.10" y2="368.20" stroke="#000" stroke-width="0.8"/>
<line x1="166.80" y1="366.00" x2="166.80" y2="368.20" stroke="#000" stroke-width="0.8"/>
<text x="142.20" y="372.30" font-size="4.9" font-family="Liberation Sans, sans-serif" fill="#000" stroke="#000" stroke-width="0.3" font-weight="bold" text-anchor="end" transform="rotate(-45 142.20 372.30)">KIR2DL2,L3/S2</text>
<line x1="192.60" y1="366.00" x2="192.60" y2="368.20" stroke="#000" stroke-width="0.8"/>
<line x1="218.30" y1="366.00" x2="218.30" y2="368.20" stroke="#000" stroke-width="0.8"/>
<text x="193.70" y="372.30" font-size="4.9" font-family="Liberation Sans, sans-serif" fill="#000" stroke="#000" stroke-width="0.3" font-weight="bold" text-anchor="end" transform="rotate(-45 193.70 372.30)">NKp46</text>
<path d="M38.30 255.20V251.90H65.50V255.20" fill="none" stroke="#111" stroke-width="1.1"/>
<text x="38.35" y="244.35" font-size="4.1" font-family="Liberation Sans, sans-serif" fill="#000" stroke="#000" stroke-width="0.7" text-anchor="middle" style="font-family:'DejaVu Sans',sans-serif">★</text>
<text x="43.90" y="244.60" font-size="7.3" font-family="Liberation Sans, sans-serif" fill="#000" stroke="#000" stroke-width="0.3">p=0.05</text>
<path d="M87.40 257.70V254.40H114.60V257.70" fill="none" stroke="#111" stroke-width="1.1"/>
<text x="91.95" y="247.65" font-size="4.1" font-family="Liberation Sans, sans-serif" fill="#000" stroke="#000" stroke-width="0.7" text-anchor="middle" style="font-family:'DejaVu Sans',sans-serif">★</text>
<text x="97.60" y="248.90" font-size="7.3" font-family="Liberation Sans, sans-serif" fill="#000" stroke="#000" stroke-width="0.3">p=0.05</text>
<line x1="288.00" y1="252.20" x2="288.00" y2="366.70" stroke="#222" stroke-width="0.95"/>
<line x1="287.50" y1="366.20" x2="493.00" y2="366.20" stroke="#000" stroke-width="1.1"/>
<line x1="286.20" y1="342.60" x2="288.00" y2="342.60" stroke="#000" stroke-width="1"/>
<text x="286.70" y="344.40" font-size="5" font-family="Liberation Sans, sans-serif" fill="#000" stroke="#000" stroke-width="0.3" font-weight="bold" text-anchor="end">5</text>
<line x1="286.20" y1="312.30" x2="288.00" y2="312.30" stroke="#000" stroke-width="1"/>
<text x="286.70" y="314.10" font-size="5" font-family="Liberation Sans, sans-serif" fill="#000" stroke="#000" stroke-width="0.3" font-weight="bold" text-anchor="end">10</text>
<line x1="286.20" y1="282.00" x2="288.00" y2="282.00" stroke="#000" stroke-width="1"/>
<text x="286.70" y="283.80" font-size="5" font-family="Liberation Sans, sans-serif" fill="#000" stroke="#000" stroke-width="0.3" font-weight="bold" text-anchor="end">15</text>
<line x1="286.20" y1="251.70" x2="288.00" y2="251.70" stroke="#000" stroke-width="1"/>
<text x="286.70" y="253.50" font-size="5" font-family="Liberation Sans, sans-serif" fill="#000" stroke="#000" stroke-width="0.3" font-weight="bold" text-anchor="end">20</text>
<text x="278.90" y="308.40" font-size="5.6" font-family="Liberation Sans, sans-serif" fill="#000" stroke="#000" stroke-width="0.28" font-weight="bold" text-anchor="middle" transform="rotate(-90 278.90 308.40)">MRFI</text>
<line x1="300.90" y1="279.90" x2="300.90" y2="267.30" stroke="#000" stroke-width="1.2"/>
<line x1="296.30" y1="267.30" x2="305.50" y2="267.30" stroke="#000" stroke-width="1.2"/>
<rect x="292.00" y="279.90" width="17.80" height="86.30" fill="#000"/>
<line x1="326.50" y1="337.30" x2="326.50" y2="331.70" stroke="#000" stroke-width="1.2"/>
<line x1="321.90" y1="331.70" x2="331.10" y2="331.70" stroke="#000" stroke-width="1.2"/>
<rect x="318.10" y="337.80" width="16.80" height="28.40" fill="#fff" stroke="#0a0a0a" stroke-width="1.1"/>
<line x1="352.10" y1="290.50" x2="352.10" y2="283.70" stroke="#000" stroke-width="1.2"/>
<line x1="347.50" y1="283.70" x2="356.70" y2="283.70" stroke="#000" stroke-width="1.2"/>
<rect x="343.20" y="290.50" width="17.80" height="75.70" fill="#000"/>
<line x1="377.70" y1="336.00" x2="377.70" y2="331.50" stroke="#000" stroke-width="1.2"/>
<line x1="373.10" y1="331.50" x2="382.30" y2="331.50" stroke="#000" stroke-width="1.2"/>
<rect x="369.30" y="336.50" width="16.80" height="29.70" fill="#fff" stroke="#0a0a0a" stroke-width="1.1"/>
<line x1="403.30" y1="354.90" x2="403.30" y2="350.70" stroke="#000" stroke-width="1.2"/>
<line x1="398.70" y1="350.70" x2="407.90" y2="350.70" stroke="#000" stroke-width="1.2"/>
<rect x="394.40" y="354.90" width="17.80" height="11.30" fill="#000"/>
<line x1="428.90" y1="358.70" x2="428.90" y2="355.40" stroke="#000" stroke-width="1.2"/>
<line x1="424.30" y1="355.40" x2="433.50" y2="355.40" stroke="#000" stroke-width="1.2"/>
<rect x="420.50" y="359.20" width="16.80" height="7.00" fill="#fff" stroke="#0a0a0a" stroke-width="1.1"/>
<line x1="454.50" y1="336.50" x2="454.50" y2="333.50" stroke="#000" stroke-width="1.2"/>
<line x1="449.90" y1="333.50" x2="459.10" y2="333.50" stroke="#000" stroke-width="1.2"/>
<rect x="445.60" y="336.50" width="17.80" height="29.70" fill="#000"/>
<line x1="480.10" y1="340.30" x2="480.10" y2="338.60" stroke="#000" stroke-width="1.2"/>
<line x1="475.50" y1="338.60" x2="484.70" y2="338.60" stroke="#000" stroke-width="1.2"/>
<rect x="471.70" y="340.80" width="16.80" height="25.40" fill="#fff" stroke="#0a0a0a" stroke-width="1.1"/>
<line x1="300.90" y1="366.20" x2="300.90" y2="368.40" stroke="#000" stroke-width="0.8"/>
<line x1="326.50" y1="366.20" x2="326.50" y2="368.40" stroke="#000" stroke-width="0.8"/>
<text x="302.00" y="372.50" font-size="4.9" font-family="Liberation Sans, sans-serif" fill="#000" stroke="#000" stroke-width="0.3" font-weight="bold" text-anchor="end" transform="rotate(-45 302.00 372.50)">CD94</text>
<line x1="352.10" y1="366.20" x2="352.10" y2="368.40" stroke="#000" stroke-width="0.8"/>
<line x1="377.70" y1="366.20" x2="377.70" y2="368.40" stroke="#000" stroke-width="0.8"/>
<text x="353.20" y="372.50" font-size="4.9" font-family="Liberation Sans, sans-serif" fill="#000" stroke="#000" stroke-width="0.3" font-weight="bold" text-anchor="end" transform="rotate(-45 353.20 372.50)">NKG2A</text>
<line x1="403.30" y1="366.20" x2="403.30" y2="368.40" stroke="#000" stroke-width="0.8"/>
<line x1="428.90" y1="366.20" x2="428.90" y2="368.40" stroke="#000" stroke-width="0.8"/>
<text x="404.40" y="372.50" font-size="4.9" font-family="Liberation Sans, sans-serif" fill="#000" stroke="#000" stroke-width="0.3" font-weight="bold" text-anchor="end" transform="rotate(-45 404.40 372.50)">KIR2DL2,L3/S2</text>
<line x1="454.50" y1="366.20" x2="454.50" y2="368.40" stroke="#000" stroke-width="0.8"/>
<line x1="480.10" y1="366.20" x2="480.10" y2="368.40" stroke="#000" stroke-width="0.8"/>
<text x="455.60" y="372.50" font-size="4.9" font-family="Liberation Sans, sans-serif" fill="#000" stroke="#000" stroke-width="0.3" font-weight="bold" text-anchor="end" transform="rotate(-45 455.60 372.50)">NKp46</text>
<path d="M300.30 260.30V256.50H327.50V260.30" fill="none" stroke="#111" stroke-width="1.1"/>
<text x="300.45" y="249.95" font-size="4.1" font-family="Liberation Sans, sans-serif" fill="#000" stroke="#000" stroke-width="0.7" text-anchor="middle" style="font-family:'DejaVu Sans',sans-serif">★</text>
<text x="306.60" y="251.00" font-size="7.3" font-family="Liberation Sans, sans-serif" fill="#000" stroke="#000" stroke-width="0.3">p=0.05</text>
<path d="M349.50 264.00V260.30H376.70V264.00" fill="none" stroke="#111" stroke-width="1.1"/>
<text x="354.05" y="252.95" font-size="4.1" font-family="Liberation Sans, sans-serif" fill="#000" stroke="#000" stroke-width="0.7" text-anchor="middle" style="font-family:'DejaVu Sans',sans-serif">★</text>
<text x="360.30" y="254.00" font-size="7.3" font-family="Liberation Sans, sans-serif" fill="#000" stroke="#000" stroke-width="0.3">p=0.05</text>
<rect x="131.00" y="8.40" width="32.70" height="27.30" fill="#fff" stroke="#d4d4d4" stroke-width="0.6"/>
<line x1="131.00" y1="28.88" x2="132.00" y2="28.88" stroke="#999" stroke-width="0.4"/>
<line x1="131.00" y1="22.05" x2="132.00" y2="22.05" stroke="#999" stroke-width="0.4"/>
<line x1="131.00" y1="15.23" x2="132.00" y2="15.23" stroke="#999" stroke-width="0.4"/>
<polygon points="136.4,35.6 136.4,35.5 136.9,32.6 137.4,29.2 137.9,26.5 138.4,27.4 138.9,30.2 139.4,32.8 139.9,35.3 139.9,35.6" fill="#f4f4f4" stroke="#5a5a5a" stroke-width="0.6"/>
<polygon points="135.6,35.6 135.6,35.4 136.0,34.8 136.5,34.5 136.9,34.1 137.4,33.3 137.8,32.4 138.3,33.1 138.7,32.7 139.2,31.8 139.6,31.1 140.1,31.7 140.5,32.1 141.0,31.4 141.4,33.4 141.9,32.6 142.3,33.7 142.8,34.0 143.2,34.3 143.7,34.4 144.1,34.2 144.6,34.6 145.0,34.2 145.5,34.1 145.9,34.3 146.4,34.1 146.8,34.5 147.3,34.4 147.7,34.3 148.2,33.6 148.6,33.5 149.1,33.2 149.5,32.4 150.0,32.2 150.4,32.1 150.9,30.6 151.3,30.4 151.8,31.2 152.2,30.0 152.7,30.7 153.1,30.3 153.6,31.3 154.0,33.1 154.5,33.3 154.9,34.9 155.2,35.6" fill="#0c0c0c"/>
<rect x="165.10" y="8.40" width="31.70" height="27.30" fill="#fff" stroke="#d4d4d4" stroke-width="0.6"/>
<line x1="165.10" y1="28.88" x2="166.10" y2="28.88" stroke="#999" stroke-width="0.4"/>
<line x1="165.10" y1="22.05" x2="166.10" y2="22.05" stroke="#999" stroke-width="0.4"/>
<line x1="165.10" y1="15.23" x2="166.10" y2="15.23" stroke="#999" stroke-width="0.4"/>
<polygon points="173.0,35.6 173.0,35.3 173.5,34.3 174.0,33.5 174.5,32.4 175.0,31.9 175.5,31.0 176.0,31.5 176.5,32.1 177.0,32.4 177.5,33.3 178.0,33.8 178.5,34.5 179.0,35.1 179.0,35.6" fill="#bcbcbc" stroke="#6a6a6a" stroke-width="0.5"/>
<polygon points="174.0,35.6 174.0,35.3 174.4,34.9 174.9,34.5 175.3,34.4 175.8,34.0 176.2,34.4 176.7,33.9 177.1,34.0 177.6,33.7 178.0,33.9 178.5,34.4 178.9,34.3 179.4,34.1 179.8,34.6 180.3,34.3 180.7,34.5 181.2,34.5 181.6,34.5 182.1,33.9 182.5,34.4 183.0,34.3 183.4,34.1 183.9,33.7 184.3,34.1 184.8,33.3 185.2,32.7 185.7,31.6 186.1,31.1 186.6,30.0 187.0,31.3 187.5,31.8 187.9,32.7 188.4,33.1 188.8,34.2 189.2,35.6" fill="#0c0c0c"/>
<rect x="131.00" y="38.20" width="32.70" height="28.00" fill="#fff" stroke="#d4d4d4" stroke-width="0.6"/>
<line x1="131.00" y1="59.20" x2="132.00" y2="59.20" stroke="#999" stroke-width="0.4"/>
<line x1="131.00" y1="52.20" x2="132.00" y2="52.20" stroke="#999" stroke-width="0.4"/>
<line x1="131.00" y1="45.20" x2="132.00" y2="45.20" stroke="#999" stroke-width="0.4"/>
<polygon points="136.4,66.0 136.4,65.8 136.9,62.6 137.4,59.2 137.9,55.4 138.4,53.5 138.9,55.6 139.4,58.3 139.9,61.2 140.4,63.6 140.8,66.0" fill="#f4f4f4" stroke="#5a5a5a" stroke-width="0.6"/>
<polygon points="134.8,66.0 134.8,65.7 135.2,65.1 135.7,64.1 136.1,63.7 136.6,63.3 137.0,62.4 137.5,61.6 137.9,62.4 138.4,59.6 138.8,59.4 139.3,59.6 139.7,60.3 140.2,61.8 140.6,62.1 141.1,62.8 141.5,61.8 142.0,63.1 142.4,63.2 142.9,63.0 143.3,63.2 143.8,62.9 144.2,63.5 144.7,63.5 145.1,63.2 145.6,63.2 146.0,62.6 146.5,63.2 146.9,61.4 147.4,62.1 147.8,63.2 148.3,63.2 148.7,63.2 149.2,63.3 149.6,63.9 150.1,63.4 150.5,63.9 151.0,64.9 151.4,65.3 151.8,66.0" fill="#0c0c0c"/>
<rect x="165.10" y="38.20" width="31.70" height="28.00" fill="#fff" stroke="#d4d4d4" stroke-width="0.6"/>
<line x1="165.10" y1="59.20" x2="166.10" y2="59.20" stroke="#999" stroke-width="0.4"/>
<line x1="165.10" y1="52.20" x2="166.10" y2="52.20" stroke="#999" stroke-width="0.4"/>
<line x1="165.10" y1="45.20" x2="166.10" y2="45.20" stroke="#999" stroke-width="0.4"/>
<polygon points="171.6,66.0 171.6,65.7 172.1,65.2 172.6,64.7 173.1,64.3 173.6,63.6 174.1,63.4 174.6,63.3 175.1,62.7 175.6,62.8 176.1,62.8 176.6,62.4 177.1,62.5 177.6,62.2 178.1,61.9 178.6,61.9 179.1,61.9 179.6,62.1 180.1,62.0 180.6,62.0 181.1,61.7 181.6,62.0 182.1,62.1 182.6,62.5 183.1,62.8 183.6,63.2 184.1,63.8 184.6,64.5 185.1,65.2 185.5,66.0" fill="#bcbcbc" stroke="#6a6a6a" stroke-width="0.5"/>
<polygon points="174.0,66.0 174.0,65.6 174.4,65.3 174.9,65.2 175.3,64.8 175.8,64.6 176.2,64.6 176.7,64.4 177.1,64.0 177.6,63.8 178.0,63.0 178.5,62.3 178.9,62.9 179.4,62.0 179.8,61.8 180.3,61.8 180.7,62.8 181.2,63.0 181.6,63.0 182.1,63.2 182.5,63.4 183.0,63.0 183.4,62.8 183.9,63.5 184.3,64.4 184.8,64.8 185.2,65.3 185.5,66.0" fill="#0c0c0c"/>
<text x="148.40" y="5.00" font-size="6.3" font-family="Liberation Sans, sans-serif" fill="#000" stroke="#000" stroke-width="0.15" text-anchor="middle">NKG2A</text>
<text x="179.60" y="5.00" font-size="6.3" font-family="Liberation Sans, sans-serif" fill="#000" stroke="#000" stroke-width="0.15" text-anchor="middle">CD94</text>
<text x="123.80" y="23.40" font-size="5.6" font-family="Liberation Sans, sans-serif" fill="#000" stroke="#000" stroke-width="0.12" text-anchor="end">ctr</text>
<text x="130.20" y="52.30" font-size="5.6" font-family="Liberation Sans, sans-serif" fill="#000" stroke="#000" stroke-width="0.12" text-anchor="end">sHLA-G</text>
<rect x="388.30" y="7.50" width="30.80" height="26.70" fill="#fff" stroke="#d4d4d4" stroke-width="0.6"/>
<line x1="388.30" y1="27.53" x2="389.30" y2="27.53" stroke="#999" stroke-width="0.4"/>
<line x1="388.30" y1="20.85" x2="389.30" y2="20.85" stroke="#999" stroke-width="0.4"/>
<line x1="388.30" y1="14.18" x2="389.30" y2="14.18" stroke="#999" stroke-width="0.4"/>
<polygon points="392.8,34.1 392.8,34.0 393.3,31.0 393.8,27.5 394.3,23.9 394.8,26.8 395.3,29.6 395.8,32.0 396.2,34.1" fill="#f4f4f4" stroke="#5a5a5a" stroke-width="0.6"/>
<polygon points="390.6,34.1 390.6,33.8 391.1,33.4 391.5,32.6 391.9,31.9 392.4,32.0 392.8,31.4 393.3,29.8 393.7,29.6 394.2,30.5 394.6,30.4 395.1,30.9 395.5,30.2 396.0,31.2 396.4,32.2 396.9,31.7 397.3,31.7 397.8,32.3 398.2,32.8 398.7,32.8 399.1,33.2 399.6,33.2 400.0,32.6 400.5,32.7 400.9,32.8 401.4,32.4 401.8,32.8 402.3,32.4 402.7,32.4 403.2,32.7 403.6,32.2 404.1,31.8 404.5,31.5 405.0,30.4 405.4,30.7 405.9,30.0 406.3,30.4 406.8,28.9 407.2,30.7 407.7,31.0 408.1,31.3 408.6,31.6 409.0,32.7 409.5,33.1 409.9,34.1" fill="#0c0c0c"/>
<rect x="422.00" y="7.50" width="33.00" height="26.70" fill="#fff" stroke="#d4d4d4" stroke-width="0.6"/>
<line x1="422.00" y1="27.53" x2="423.00" y2="27.53" stroke="#999" stroke-width="0.4"/>
<line x1="422.00" y1="20.85" x2="423.00" y2="20.85" stroke="#999" stroke-width="0.4"/>
<line x1="422.00" y1="14.18" x2="423.00" y2="14.18" stroke="#999" stroke-width="0.4"/>
<polygon points="430.2,34.1 430.2,33.8 430.7,33.2 431.2,32.7 431.7,32.3 432.2,31.6 432.7,31.2 433.2,30.7 433.7,29.7 434.2,30.8 434.7,31.3 435.2,31.9 435.7,32.4 436.2,32.9 436.7,33.3 437.0,34.1" fill="#bcbcbc" stroke="#6a6a6a" stroke-width="0.5"/>
<polygon points="431.5,34.1 431.5,33.8 431.9,33.6 432.4,33.6 432.8,33.3 433.3,33.3 433.7,33.2 434.2,32.8 434.6,33.0 435.1,33.0 435.5,32.9 436.0,32.9 436.4,33.2 436.9,33.1 437.3,33.2 437.8,33.2 438.2,33.1 438.7,33.1 439.1,33.0 439.6,32.9 440.0,32.6 440.5,32.6 440.9,32.4 441.4,32.3 441.8,32.5 442.3,31.8 442.7,30.8 443.2,30.4 443.6,31.1 444.1,30.5 444.5,29.9 445.0,31.5 445.4,32.0 445.9,32.9 446.3,33.4 446.5,34.1" fill="#0c0c0c"/>
<rect x="388.30" y="37.60" width="30.80" height="28.60" fill="#fff" stroke="#d4d4d4" stroke-width="0.6"/>
<line x1="388.30" y1="59.05" x2="389.30" y2="59.05" stroke="#999" stroke-width="0.4"/>
<line x1="388.30" y1="51.90" x2="389.30" y2="51.90" stroke="#999" stroke-width="0.4"/>
<line x1="388.30" y1="44.75" x2="389.30" y2="44.75" stroke="#999" stroke-width="0.4"/>
<polygon points="393.2,64.5 393.2,64.3 393.7,59.2 394.2,55.3 394.7,51.9 395.2,54.7 395.7,58.1 396.2,60.5 396.7,63.6 396.8,64.5" fill="#f4f4f4" stroke="#5a5a5a" stroke-width="0.6"/>
<polygon points="390.8,64.5 390.8,64.2 391.2,62.9 391.7,62.3 392.1,61.2 392.6,59.1 393.0,58.6 393.5,59.8 393.9,58.3 394.4,57.5 394.8,58.2 395.3,59.3 395.7,59.4 396.2,58.7 396.6,60.8 397.1,59.5 397.5,60.0 398.0,61.2 398.4,60.6 398.9,60.2 399.3,60.6 399.8,61.6 400.2,60.0 400.7,60.5 401.1,60.4 401.6,62.0 402.0,61.9 402.5,62.4 402.9,61.6 403.4,62.5 403.8,62.9 404.3,62.8 404.7,62.6 405.2,63.1 405.6,63.7 406.1,64.0 406.5,64.5" fill="#0c0c0c"/>
<rect x="422.00" y="37.60" width="33.00" height="28.60" fill="#fff" stroke="#d4d4d4" stroke-width="0.6"/>
<line x1="422.00" y1="59.05" x2="423.00" y2="59.05" stroke="#999" stroke-width="0.4"/>
<line x1="422.00" y1="51.90" x2="423.00" y2="51.90" stroke="#999" stroke-width="0.4"/>
<line x1="422.00" y1="44.75" x2="423.00" y2="44.75" stroke="#999" stroke-width="0.4"/>
<polygon points="429.4,66.0 429.4,65.7 429.9,65.3 430.4,64.9 430.9,64.6 431.4,64.2 431.9,63.7 432.4,63.4 432.9,63.3 433.4,62.6 433.9,62.4 434.4,62.1 434.9,62.3 435.4,61.8 435.9,62.0 436.4,61.4 436.9,61.7 437.4,61.9 437.9,61.9 438.4,61.7 438.9,62.4 439.4,62.9 439.9,63.1 440.4,63.6 440.9,64.0 441.4,64.4 441.9,64.8 442.4,65.2 442.9,65.6 443.0,66.0" fill="#bcbcbc" stroke="#6a6a6a" stroke-width="0.5"/>
<polygon points="431.5,66.0 431.5,65.7 431.9,65.3 432.4,65.1 432.8,64.7 433.3,64.6 433.7,64.2 434.2,64.3 434.6,63.8 435.1,63.9 435.5,62.5 436.0,62.5 436.4,63.0 436.9,62.2 437.3,61.0 437.8,62.6 438.2,60.7 438.7,61.8 439.1,62.1 439.6,61.9 440.0,63.1 440.5,63.4 440.9,63.6 441.4,63.9 441.8,64.9 442.3,65.1 442.7,65.6 442.8,66.0" fill="#0c0c0c"/>
<text x="402.10" y="5.30" font-size="6.1" font-family="Liberation Sans, sans-serif" fill="#000" stroke="#000" stroke-width="0.15" text-anchor="middle">NKG2A</text>
<text x="436.90" y="5.30" font-size="6.1" font-family="Liberation Sans, sans-serif" fill="#000" stroke="#000" stroke-width="0.15" text-anchor="middle">CD94</text>
<text x="379.50" y="23.90" font-size="5.9" font-family="Liberation Sans, sans-serif" fill="#000" stroke="#000" stroke-width="0.12" text-anchor="end">ctr</text>
<text x="383.40" y="52.60" font-size="5.9" font-family="Liberation Sans, sans-serif" fill="#000" stroke="#000" stroke-width="0.12" text-anchor="end">sHLA-G</text>
<rect x="169.50" y="235.00" width="29.90" height="28.20" fill="#fff" stroke="#dcdcdc" stroke-width="0.6"/>
<line x1="169.50" y1="256.15" x2="170.50" y2="256.15" stroke="#999" stroke-width="0.4"/>
<line x1="169.50" y1="249.10" x2="170.50" y2="249.10" stroke="#999" stroke-width="0.4"/>
<line x1="169.50" y1="242.05" x2="170.50" y2="242.05" stroke="#999" stroke-width="0.4"/>
<polygon points="173.2,262.8 173.2,262.7 173.7,260.3 174.2,258.1 174.7,257.1 175.2,259.0 175.7,260.8 176.2,262.5 176.2,262.8" fill="#f4f4f4" stroke="#5a5a5a" stroke-width="0.6"/>
<polygon points="170.9,262.8 170.9,262.5 171.3,261.9 171.8,261.2 172.2,259.8 172.7,259.4 173.1,259.4 173.6,259.8 174.0,259.7 174.5,259.7 174.9,259.5 175.4,260.1 175.8,259.7 176.3,260.1 176.7,259.0 177.2,259.0 177.6,259.6 178.1,260.1 178.5,258.8 179.0,259.9 179.4,259.7 179.9,260.3 180.3,259.6 180.8,259.5 181.2,259.5 181.7,260.0 182.1,259.5 182.6,260.4 183.0,260.0 183.5,260.5 183.9,260.2 184.4,260.9 184.8,261.1 185.3,261.0 185.7,261.4 186.2,261.5 186.6,262.0 187.1,262.4 187.2,262.8" fill="#0c0c0c"/>
<rect x="201.40" y="235.00" width="28.60" height="28.20" fill="#fff" stroke="#909090" stroke-width="0.6"/>
<line x1="201.40" y1="256.15" x2="202.40" y2="256.15" stroke="#999" stroke-width="0.4"/>
<line x1="201.40" y1="249.10" x2="202.40" y2="249.10" stroke="#999" stroke-width="0.4"/>
<line x1="201.40" y1="242.05" x2="202.40" y2="242.05" stroke="#999" stroke-width="0.4"/>
<polygon points="204.5,262.8 204.5,262.5 205.0,262.3 205.5,262.2 206.0,262.0 206.5,261.9 207.0,261.6 207.5,261.6 208.0,261.4 208.5,260.7 209.0,260.2 209.5,259.1 210.0,258.4 210.5,257.3 211.0,255.9 211.5,256.2 212.0,258.1 212.5,259.2 213.0,260.3 213.5,261.3 214.0,262.5 214.0,262.8" fill="#dedede" stroke="#555" stroke-width="0.6"/>
<polygon points="214.6,262.8 214.6,262.4 215.0,261.8 215.5,261.0 215.9,260.5 216.4,259.1 216.8,258.8 217.3,258.4 217.7,256.7 218.2,254.2 218.6,255.0 219.1,253.2 219.5,256.2 220.0,257.5 220.4,258.9 220.9,260.3 221.3,261.2 221.8,262.0 222.2,262.0 222.6,262.8" fill="#0c0c0c"/>
<rect x="169.50" y="265.40" width="29.90" height="28.60" fill="#fff" stroke="#dcdcdc" stroke-width="0.6"/>
<line x1="169.50" y1="286.85" x2="170.50" y2="286.85" stroke="#999" stroke-width="0.4"/>
<line x1="169.50" y1="279.70" x2="170.50" y2="279.70" stroke="#999" stroke-width="0.4"/>
<line x1="169.50" y1="272.55" x2="170.50" y2="272.55" stroke="#999" stroke-width="0.4"/>
<polygon points="173.2,292.8 173.2,292.7 173.7,289.5 174.2,286.6 174.7,284.9 175.2,287.9 175.7,290.0 176.2,292.5 176.2,292.8" fill="#f4f4f4" stroke="#5a5a5a" stroke-width="0.6"/>
<polygon points="170.9,292.8 170.9,292.6 171.3,292.0 171.8,291.0 172.2,291.0 172.7,289.9 173.1,289.3 173.6,289.9 174.0,289.8 174.5,289.5 174.9,288.9 175.4,288.8 175.8,289.2 176.3,289.2 176.7,290.3 177.2,290.2 177.6,290.1 178.1,289.4 178.5,290.1 179.0,289.6 179.4,290.4 179.9,290.3 180.3,289.9 180.8,289.1 181.2,289.1 181.7,289.1 182.1,289.9 182.6,289.5 183.0,289.6 183.5,289.6 183.9,290.3 184.4,289.2 184.8,290.6 185.3,289.9 185.7,290.3 186.2,291.7 186.6,291.9 187.1,292.3 187.2,292.8" fill="#0c0c0c"/>
<rect x="201.40" y="265.40" width="28.60" height="28.60" fill="#fff" stroke="#909090" stroke-width="0.6"/>
<line x1="201.40" y1="286.85" x2="202.40" y2="286.85" stroke="#999" stroke-width="0.4"/>
<line x1="201.40" y1="279.70" x2="202.40" y2="279.70" stroke="#999" stroke-width="0.4"/>
<line x1="201.40" y1="272.55" x2="202.40" y2="272.55" stroke="#999" stroke-width="0.4"/>
<polygon points="205.5,293.8 205.5,293.5 206.0,293.0 206.5,292.6 207.0,292.1 207.5,291.5 208.0,290.9 208.5,290.0 209.0,289.5 209.5,288.4 210.0,288.8 210.5,290.4 211.0,291.2 211.5,292.4 212.0,293.5 212.0,293.8" fill="#dedede" stroke="#555" stroke-width="0.6"/>
<polygon points="209.6,293.8 209.6,293.5 210.0,292.8 210.5,291.3 210.9,290.9 211.4,291.0 211.8,290.4 212.3,288.4 212.7,287.5 213.2,286.9 213.6,287.7 214.1,287.8 214.5,288.8 215.0,288.3 215.4,291.0 215.9,290.4 216.3,291.2 216.8,292.4 217.2,292.4 217.7,293.1 218.0,293.8" fill="#0c0c0c"/>
<text x="186.80" y="232.60" font-size="6.6" font-family="Liberation Sans, sans-serif" fill="#000" stroke="#000" stroke-width="0.15" text-anchor="middle">NKG2A</text>
<text x="216.30" y="232.60" font-size="6.6" font-family="Liberation Sans, sans-serif" fill="#000" stroke="#000" stroke-width="0.15" text-anchor="middle">CD94</text>
<text x="158.40" y="250.40" font-size="6.0" font-family="Liberation Sans, sans-serif" fill="#000" stroke="#000" stroke-width="0.12" text-anchor="end">ctr</text>
<text x="163.80" y="278.60" font-size="6.0" font-family="Liberation Sans, sans-serif" fill="#000" stroke="#000" stroke-width="0.12" text-anchor="end">sHLA-G</text>
<rect x="425.80" y="242.00" width="30.70" height="28.40" fill="#fff" stroke="#dcdcdc" stroke-width="0.6"/>
<line x1="425.80" y1="263.30" x2="426.80" y2="263.30" stroke="#999" stroke-width="0.4"/>
<line x1="425.80" y1="256.20" x2="426.80" y2="256.20" stroke="#999" stroke-width="0.4"/>
<line x1="425.80" y1="249.10" x2="426.80" y2="249.10" stroke="#999" stroke-width="0.4"/>
<polygon points="428.5,270.2 428.5,270.1 429.0,268.2 429.5,266.1 430.0,264.6 430.5,263.2 431.0,264.7 431.5,265.9 432.0,266.9 432.5,268.0 433.0,269.1 433.4,270.2" fill="#f4f4f4" stroke="#5a5a5a" stroke-width="0.6"/>
<polygon points="427.1,270.2 427.1,270.0 427.6,268.8 428.0,268.4 428.4,266.6 428.9,267.1 429.3,266.7 429.8,265.6 430.2,266.1 430.7,265.8 431.1,264.5 431.6,265.0 432.0,265.4 432.5,266.0 432.9,265.6 433.4,265.7 433.8,266.6 434.3,266.5 434.7,267.8 435.2,266.8 435.6,267.4 436.1,267.0 436.5,267.2 437.0,267.8 437.4,268.2 437.9,267.0 438.3,268.2 438.8,267.7 439.2,267.9 439.7,268.0 440.1,267.4 440.6,267.0 441.0,267.9 441.5,267.2 441.9,267.6 442.4,267.1 442.8,267.2 443.3,267.6 443.7,267.7 444.2,267.6 444.6,266.5 445.1,267.3 445.5,267.8 446.0,266.9 446.4,267.0 446.9,268.0 447.3,268.5 447.8,268.6 448.2,268.9 448.7,268.9 449.1,269.3 449.6,269.5 450.0,269.8 450.3,270.2" fill="#0c0c0c"/>
<rect x="459.50" y="242.00" width="29.90" height="28.40" fill="#fff" stroke="#909090" stroke-width="0.6"/>
<line x1="459.50" y1="263.30" x2="460.50" y2="263.30" stroke="#999" stroke-width="0.4"/>
<line x1="459.50" y1="256.20" x2="460.50" y2="256.20" stroke="#999" stroke-width="0.4"/>
<line x1="459.50" y1="249.10" x2="460.50" y2="249.10" stroke="#999" stroke-width="0.4"/>
<polygon points="461.8,270.2 461.8,269.9 462.3,269.7 462.8,269.5 463.3,269.3 463.8,269.2 464.3,268.9 464.8,268.8 465.3,268.6 465.8,268.5 466.3,268.1 466.8,267.4 467.3,267.2 467.8,266.6 468.3,266.0 468.8,265.4 469.3,265.0 469.8,264.0 470.3,263.1 470.8,262.0 471.3,263.0 471.8,264.0 472.3,265.7 472.8,267.1 473.3,268.7 473.8,269.9 473.8,270.2" fill="#dedede" stroke="#555" stroke-width="0.6"/>
<polygon points="477.2,270.2 477.2,269.9 477.6,268.7 478.1,268.1 478.5,267.0 479.0,267.1 479.4,265.2 479.9,262.3 480.3,261.1 480.8,259.4 481.2,257.6 481.7,262.6 482.1,264.3 482.6,265.3 483.0,265.7 483.5,267.0 483.9,267.7 484.4,268.8 484.8,269.6 485.0,270.2" fill="#0c0c0c"/>
<rect x="425.80" y="273.40" width="30.70" height="27.80" fill="#fff" stroke="#dcdcdc" stroke-width="0.6"/>
<line x1="425.80" y1="294.25" x2="426.80" y2="294.25" stroke="#999" stroke-width="0.4"/>
<line x1="425.80" y1="287.30" x2="426.80" y2="287.30" stroke="#999" stroke-width="0.4"/>
<line x1="425.80" y1="280.35" x2="426.80" y2="280.35" stroke="#999" stroke-width="0.4"/>
<polygon points="430.0,301.0 430.0,300.9 430.5,299.2 431.0,297.3 431.5,295.8 432.0,293.4 432.5,294.3 433.0,295.5 433.5,297.4 434.0,299.1 434.5,300.7 434.5,301.0" fill="#f4f4f4" stroke="#5a5a5a" stroke-width="0.6"/>
<polygon points="428.0,301.0 428.0,300.7 428.4,300.0 428.9,299.3 429.3,299.3 429.8,298.9 430.2,297.6 430.7,296.9 431.1,296.8 431.6,296.5 432.0,294.5 432.5,295.7 432.9,295.0 433.4,295.2 433.8,294.7 434.3,296.0 434.7,295.7 435.2,297.0 435.6,297.7 436.1,297.9 436.5,296.9 437.0,297.7 437.4,298.4 437.9,299.0 438.3,298.5 438.8,298.4 439.2,298.8 439.7,299.2 440.1,298.9 440.6,298.8 441.0,299.7 441.5,300.0 441.9,300.1 442.4,300.4 442.8,301.0" fill="#0c0c0c"/>
<rect x="459.50" y="273.40" width="29.90" height="27.80" fill="#fff" stroke="#909090" stroke-width="0.6"/>
<line x1="459.50" y1="294.25" x2="460.50" y2="294.25" stroke="#999" stroke-width="0.4"/>
<line x1="459.50" y1="287.30" x2="460.50" y2="287.30" stroke="#999" stroke-width="0.4"/>
<line x1="459.50" y1="280.35" x2="460.50" y2="280.35" stroke="#999" stroke-width="0.4"/>
<polygon points="462.5,301.0 462.5,300.7 463.0,300.5 463.5,300.2 464.0,300.0 464.5,299.8 465.0,299.7 465.5,299.0 466.0,298.7 466.5,298.1 467.0,297.9 467.5,297.4 468.0,296.7 468.5,296.4 469.0,296.6 469.5,297.6 470.0,298.5 470.5,299.2 471.0,299.9 471.5,300.5 471.6,301.0" fill="#dedede" stroke="#555" stroke-width="0.6"/>
<polygon points="468.2,301.0 468.2,300.6 468.6,300.2 469.1,299.5 469.5,299.1 470.0,297.3 470.4,298.0 470.9,297.6 471.3,296.9 471.8,295.3 472.2,292.6 472.7,292.2 473.1,293.7 473.6,293.7 474.0,294.9 474.5,297.2 474.9,298.1 475.4,297.6 475.8,298.6 476.3,299.7 476.7,299.6 477.2,300.2 477.6,300.6 477.8,301.0" fill="#0c0c0c"/>
<text x="440.40" y="239.40" font-size="6.6" font-family="Liberation Sans, sans-serif" fill="#000" stroke="#000" stroke-width="0.15" text-anchor="middle">NKG2A</text>
<text x="474.20" y="239.40" font-size="6.6" font-family="Liberation Sans, sans-serif" fill="#000" stroke="#000" stroke-width="0.15" text-anchor="middle">CD94</text>
<text x="416.50" y="256.60" font-size="6.0" font-family="Liberation Sans, sans-serif" fill="#000" stroke="#000" stroke-width="0.12" text-anchor="end">ctr</text>
<text x="421.60" y="284.80" font-size="6.0" font-family="Liberation Sans, sans-serif" fill="#000" stroke="#000" stroke-width="0.12" text-anchor="end">sHLA-G</text>
</svg>
</body></html>
